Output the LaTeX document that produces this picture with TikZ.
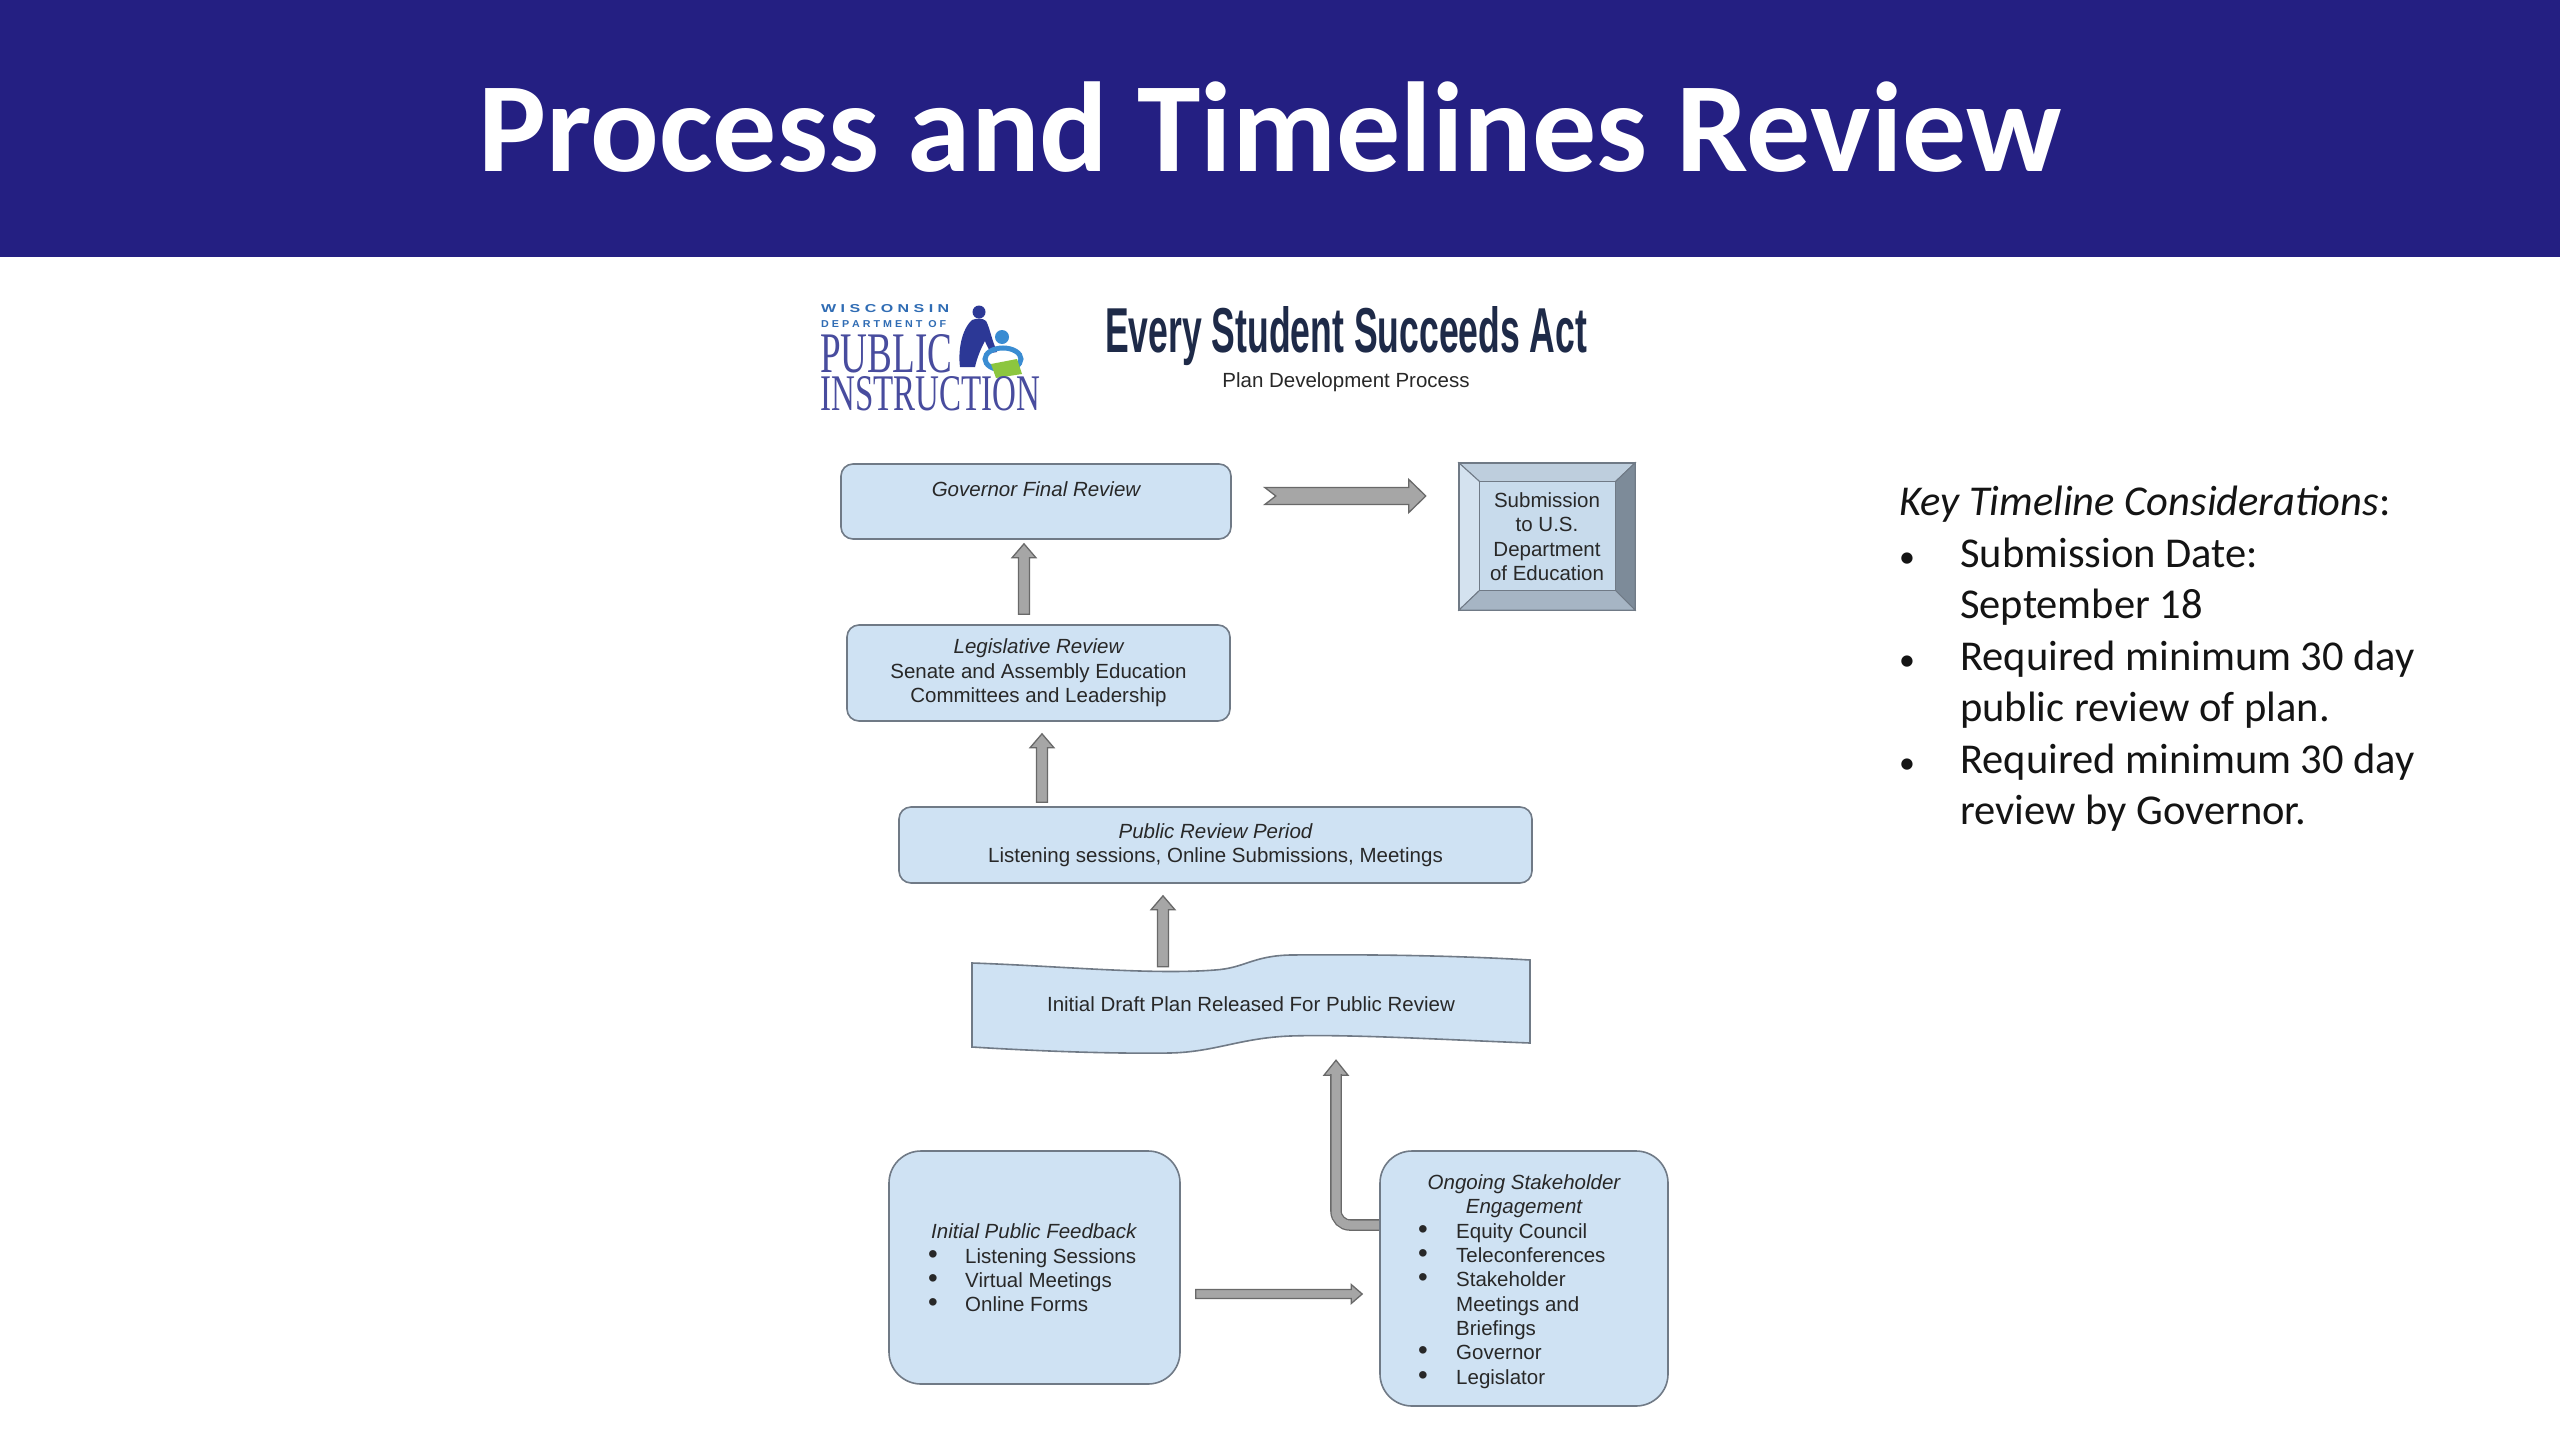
\documentclass[tikz,border=0pt]{standalone}
\usepackage{fontspec}
\usepackage{graphicx}
\setmainfont{Liberation Sans}
\newfontfamily\calib{Carlito}
\newfontfamily\logoserif{Liberation Serif}
\usetikzlibrary{calc}
\pgfdeclarelayer{back}
\pgfdeclarelayer{arrowlayer}
\pgfsetlayers{back,arrowlayer,main}
\definecolor{hdr}{RGB}{36,31,130}
\definecolor{boxfill}{RGB}{207,226,243}
\definecolor{boxline}{RGB}{112,122,134}
\definecolor{dtextc}{RGB}{40,40,40}
\definecolor{arrowfill}{RGB}{166,166,166}
\definecolor{arrowline}{RGB}{105,105,105}
\definecolor{ktext}{RGB}{20,20,20}
\definecolor{esanavy}{RGB}{30,42,72}
\definecolor{logoblue}{RGB}{47,108,180}
\definecolor{logopurple}{RGB}{72,76,158}
\definecolor{adultblue}{RGB}{44,56,150}
\definecolor{childblue}{RGB}{58,140,210}
\definecolor{bookgreen}{RGB}{140,198,63}
\definecolor{subtop}{RGB}{190,206,221}
\definecolor{subleft}{RGB}{212,226,239}
\definecolor{subright}{RGB}{125,139,153}
\definecolor{subbottom}{RGB}{166,181,196}
\definecolor{subinner}{RGB}{200,219,236}
\newcommand{\blockarrow}[6]{%
  \path ($(#2)!#5!(#1)$) coordinate (bahb);
  \draw[blockarrow] ($(#1)!#3!90:(#2)$) -- ($(bahb)!#3!90:(#2)$) -- ($(bahb)!#4!90:(#2)$) -- (#2)
    -- ($(bahb)!#4!-90:(#2)$) -- ($(bahb)!#3!-90:(#2)$) -- ($(#1)!#3!-90:(#2)$) -- ($(#1)!#6!(#2)$) -- cycle;}
\newcommand{\dbul}{\scalebox{1.35}{•}}
\newcommand{\kbul}{\scalebox{0.75}{•}}
\begin{document}
\begin{tikzpicture}[x=1pt,y=-1pt,
  box/.style={draw=boxline, line width=1.6pt, fill=boxfill, rounded corners=12pt, inner sep=0pt},
  dtext/.style={font=\fontsize{20.5}{24.5}\selectfont, text=dtextc, inner sep=0pt},
  blockarrow/.style={draw=arrowline, fill=arrowfill, line width=1.3pt, line join=miter},
  elbowbody/.style={draw=arrowline, line width=1.3pt, double=arrowfill, double distance=9pt, rounded corners=14pt},
  keytext/.style={font=\calib\fontsize{42.5}{51.5}\selectfont, text=ktext, inner sep=0pt, anchor=base west},
  facestyle/.style={draw=boxline, line width=1pt, line join=miter}]
\useasboundingbox (0,0) rectangle (2560,1440);
\begin{pgfonlayer}{back}
\fill[white] (0,0) rectangle (2560,1440);
\fill[hdr] (0,0) rectangle (2560,257);
\end{pgfonlayer}

% title
\node[anchor=base, inner sep=0pt, text=white] (title) at (1270,171)
  {\resizebox{1583pt}{!}{\calib\bfseries Process and Timelines Review}};

% logo
\fill[adultblue] (979,312) circle (6.5);
\fill[adultblue] (972,320) .. controls (977,318) and (983,318) .. (986,321)
  .. controls (989,326) and (991,336) .. (994,344) -- (997,352) -- (991,353)
  .. controls (988,348) and (986,344) .. (985,341)
  .. controls (981,348) and (977,358) .. (975,367) -- (960,367)
  .. controls (958,352) and (961,330) .. (972,320) -- cycle;
\fill[childblue] (1002,337) circle (7);
\draw[childblue, line width=5pt] (1003,359) ellipse (18 and 11);
\fill[bookgreen] (991,364) -- (1017,359) -- (1022,374) -- (996,378) -- cycle;
\node[anchor=base west, inner sep=0pt, text=logoblue] (wisc) at (821,312)
  {\resizebox{128pt}{8pt}{\bfseries W I S C O N S I N}};
\node[anchor=base west, inner sep=0pt, text=logoblue] (dept) at (821,327)
  {\resizebox{125pt}{7pt}{\bfseries D E P A R T M E N T \ O F}};
\node[anchor=north west, inner sep=0pt, text=logopurple, align=left] (publ) at (820,334)
  {\resizebox{132pt}{38pt}{\logoserif PUBLIC}\\[3pt]\resizebox{220pt}{34pt}{\logoserif INSTRUCTION}};

% heading of the diagram
\node[anchor=base west, inner sep=0pt, text=esanavy] (esa) at (1105,352)
  {\resizebox{482pt}{46pt}{\bfseries Every Student Succeeds Act}};
\node[dtext, anchor=base] (pdp) at (1346,387) {Plan Development Process};

% boxes
\node[box, minimum width=390pt, minimum height=75pt] (gov) at (1036,501.5) {};
\node[dtext, anchor=base] (govt) at (1036,496) {\itshape Governor Final Review};

\node[box, minimum width=383pt, minimum height=96pt, dtext, align=center] (leg) at (1038.5,673)
  {{\itshape Legislative Review}\\Senate and Assembly Education\\Committees and Leadership};

\node[box, minimum width=633pt, minimum height=76pt, dtext, align=center] (pub) at (1215.5,845)
  {{\itshape Public Review Period}\\Listening sessions, Online Submissions, Meetings};

% draft plan (wavy tape)
\draw[draw=boxline, line width=1.6pt, fill=boxfill]
  (972,963) .. controls (1060,966) and (1150,975) .. (1215,970)
  .. controls (1245,968) and (1252,956) .. (1290,955)
  .. controls (1400,954) and (1480,957) .. (1530,960) -- (1530,1043)
  .. controls (1450,1040) and (1350,1034) .. (1290,1036)
  .. controls (1240,1038) and (1215,1052) .. (1170,1053)
  .. controls (1100,1054) and (1020,1050) .. (972,1047) -- cycle;
\node[dtext, minimum width=558pt, minimum height=90pt] (draft) at (1251,1004)
  {Initial Draft Plan Released For Public Review};

\node[box, rounded corners=32pt, minimum width=291pt, minimum height=233pt] (init) at (1034.5,1267.5) {};
\node[dtext, anchor=base west] (initt) at (931,1238) {\itshape Initial Public Feedback};
\node[dtext, anchor=base west] (init1) at (928,1263) {\makebox[37pt][l]{\dbul}Listening Sessions};
\node[dtext, anchor=base west] (init2) at (928,1287) {\makebox[37pt][l]{\dbul}Virtual Meetings};
\node[dtext, anchor=base west] (init3) at (928,1311) {\makebox[37pt][l]{\dbul}Online Forms};

\node[box, rounded corners=32pt, minimum width=288pt, minimum height=255pt] (ong) at (1524,1278.5) {};
\node[dtext, anchor=base] (ongt1) at (1524,1189) {\itshape Ongoing Stakeholder};
\node[dtext, anchor=base] (ongt2) at (1524,1213) {\itshape Engagement};
\node[dtext, anchor=base west] (ong1) at (1418,1238) {\makebox[38pt][l]{\dbul}Equity Council};
\node[dtext, anchor=base west] (ong2) at (1418,1262) {\makebox[38pt][l]{\dbul}Teleconferences};
\node[dtext, anchor=base west] (ong3) at (1418,1286) {\makebox[38pt][l]{\dbul}Stakeholder};
\node[dtext, anchor=base west] (ong4) at (1418,1311) {\hspace*{38pt}Meetings and};
\node[dtext, anchor=base west] (ong5) at (1418,1335) {\hspace*{38pt}Briefings};
\node[dtext, anchor=base west] (ong6) at (1418,1359) {\makebox[38pt][l]{\dbul}Governor};
\node[dtext, anchor=base west] (ong7) at (1418,1384) {\makebox[38pt][l]{\dbul}Legislator};

% submission (bevel box)
\path node[inner sep=0pt, minimum width=176pt, minimum height=147pt] (sub) at (1547,536.5) {};
\coordinate (inw) at ($(sub.north west)+(21,19)$);
\coordinate (ine) at ($(sub.north east)+(-20,19)$);
\coordinate (isw) at ($(sub.south west)+(21,-20)$);
\coordinate (ise) at ($(sub.south east)+(-20,-20)$);
\filldraw[facestyle, fill=subtop] (sub.north west) -- (sub.north east) -- (ine) -- (inw) -- cycle;
\filldraw[facestyle, fill=subleft] (sub.north west) -- (inw) -- (isw) -- (sub.south west) -- cycle;
\filldraw[facestyle, fill=subright] (sub.north east) -- (ine) -- (ise) -- (sub.south east) -- cycle;
\filldraw[facestyle, fill=subbottom] (sub.south west) -- (isw) -- (ise) -- (sub.south east) -- cycle;
\filldraw[facestyle, fill=subinner] (inw) rectangle (ise);
\draw[facestyle, line width=1.4pt] (sub.north west) rectangle (sub.south east);
\node[dtext, align=center] (subt) at (sub.center) {Submission\\to U.S.\\Department\\of Education};

% connectors
\begin{pgfonlayer}{arrowlayer}
\coordinate (m1) at ($(gov.east)+(33,-5.5)$);
\coordinate (m2) at ($(sub.west)+(-33,-40.5)$);
\blockarrow{m1}{m2}{8.5pt}{16.5pt}{17pt}{11pt}
\coordinate (a1s) at ($(leg.north)+(-14.5,-10)$);
\coordinate (a1e) at ($(gov.south)+(-12,4)$);
\blockarrow{a1s}{a1e}{5.5pt}{12pt}{14pt}{0pt}
\coordinate (a2s) at ($(pub.north)+(-173.5,-4)$);
\coordinate (a2e) at ($(leg.south)+(3.5,12)$);
\blockarrow{a2s}{a2e}{5.5pt}{12pt}{14pt}{0pt}
\coordinate (a3s) at ($(draft.north)+(-88,8)$);
\coordinate (a3e) at ($(pub.south)+(-52.5,12)$);
\blockarrow{a3s}{a3e}{5.5pt}{12pt}{14pt}{0pt}
\coordinate (a4s) at ($(init.east)+(15,26.5)$);
\coordinate (a4e) at ($(ong.west)+(-17,15.5)$);
\blockarrow{a4s}{a4e}{4.5pt}{9.5pt}{11pt}{0pt}
\coordinate (e1s) at ($(ong.west)+(4,-53.5)$);
\coordinate (e1e) at ($(draft.south)+(85,11)$);
\coordinate (e1h) at ($(e1e)+(0,15)$);
\blockarrow{e1h}{e1e}{5.8pt}{12pt}{15pt}{0pt}
\draw[elbowbody] (e1s) -| ($(e1h)+(0,-1)$);
\end{pgfonlayer}

% key timeline considerations
\node[keytext] (k0) at (1899,515) {\itshape Key Timeline Considerations\upshape:};
\node[keytext] (k1) at (1899,567) {\makebox[61pt][l]{\kbul}Submission Date:};
\node[keytext] (k2) at (1899,618) {\hspace*{61pt}September 18};
\node[keytext] (k3) at (1899,670) {\makebox[61pt][l]{\kbul}Required minimum 30 day};
\node[keytext] (k4) at (1899,721) {\hspace*{61pt}public review of plan.};
\node[keytext] (k5) at (1899,773) {\makebox[61pt][l]{\kbul}Required minimum 30 day};
\node[keytext] (k6) at (1899,824) {\hspace*{61pt}review by Governor.};
\end{tikzpicture}
\end{document}
